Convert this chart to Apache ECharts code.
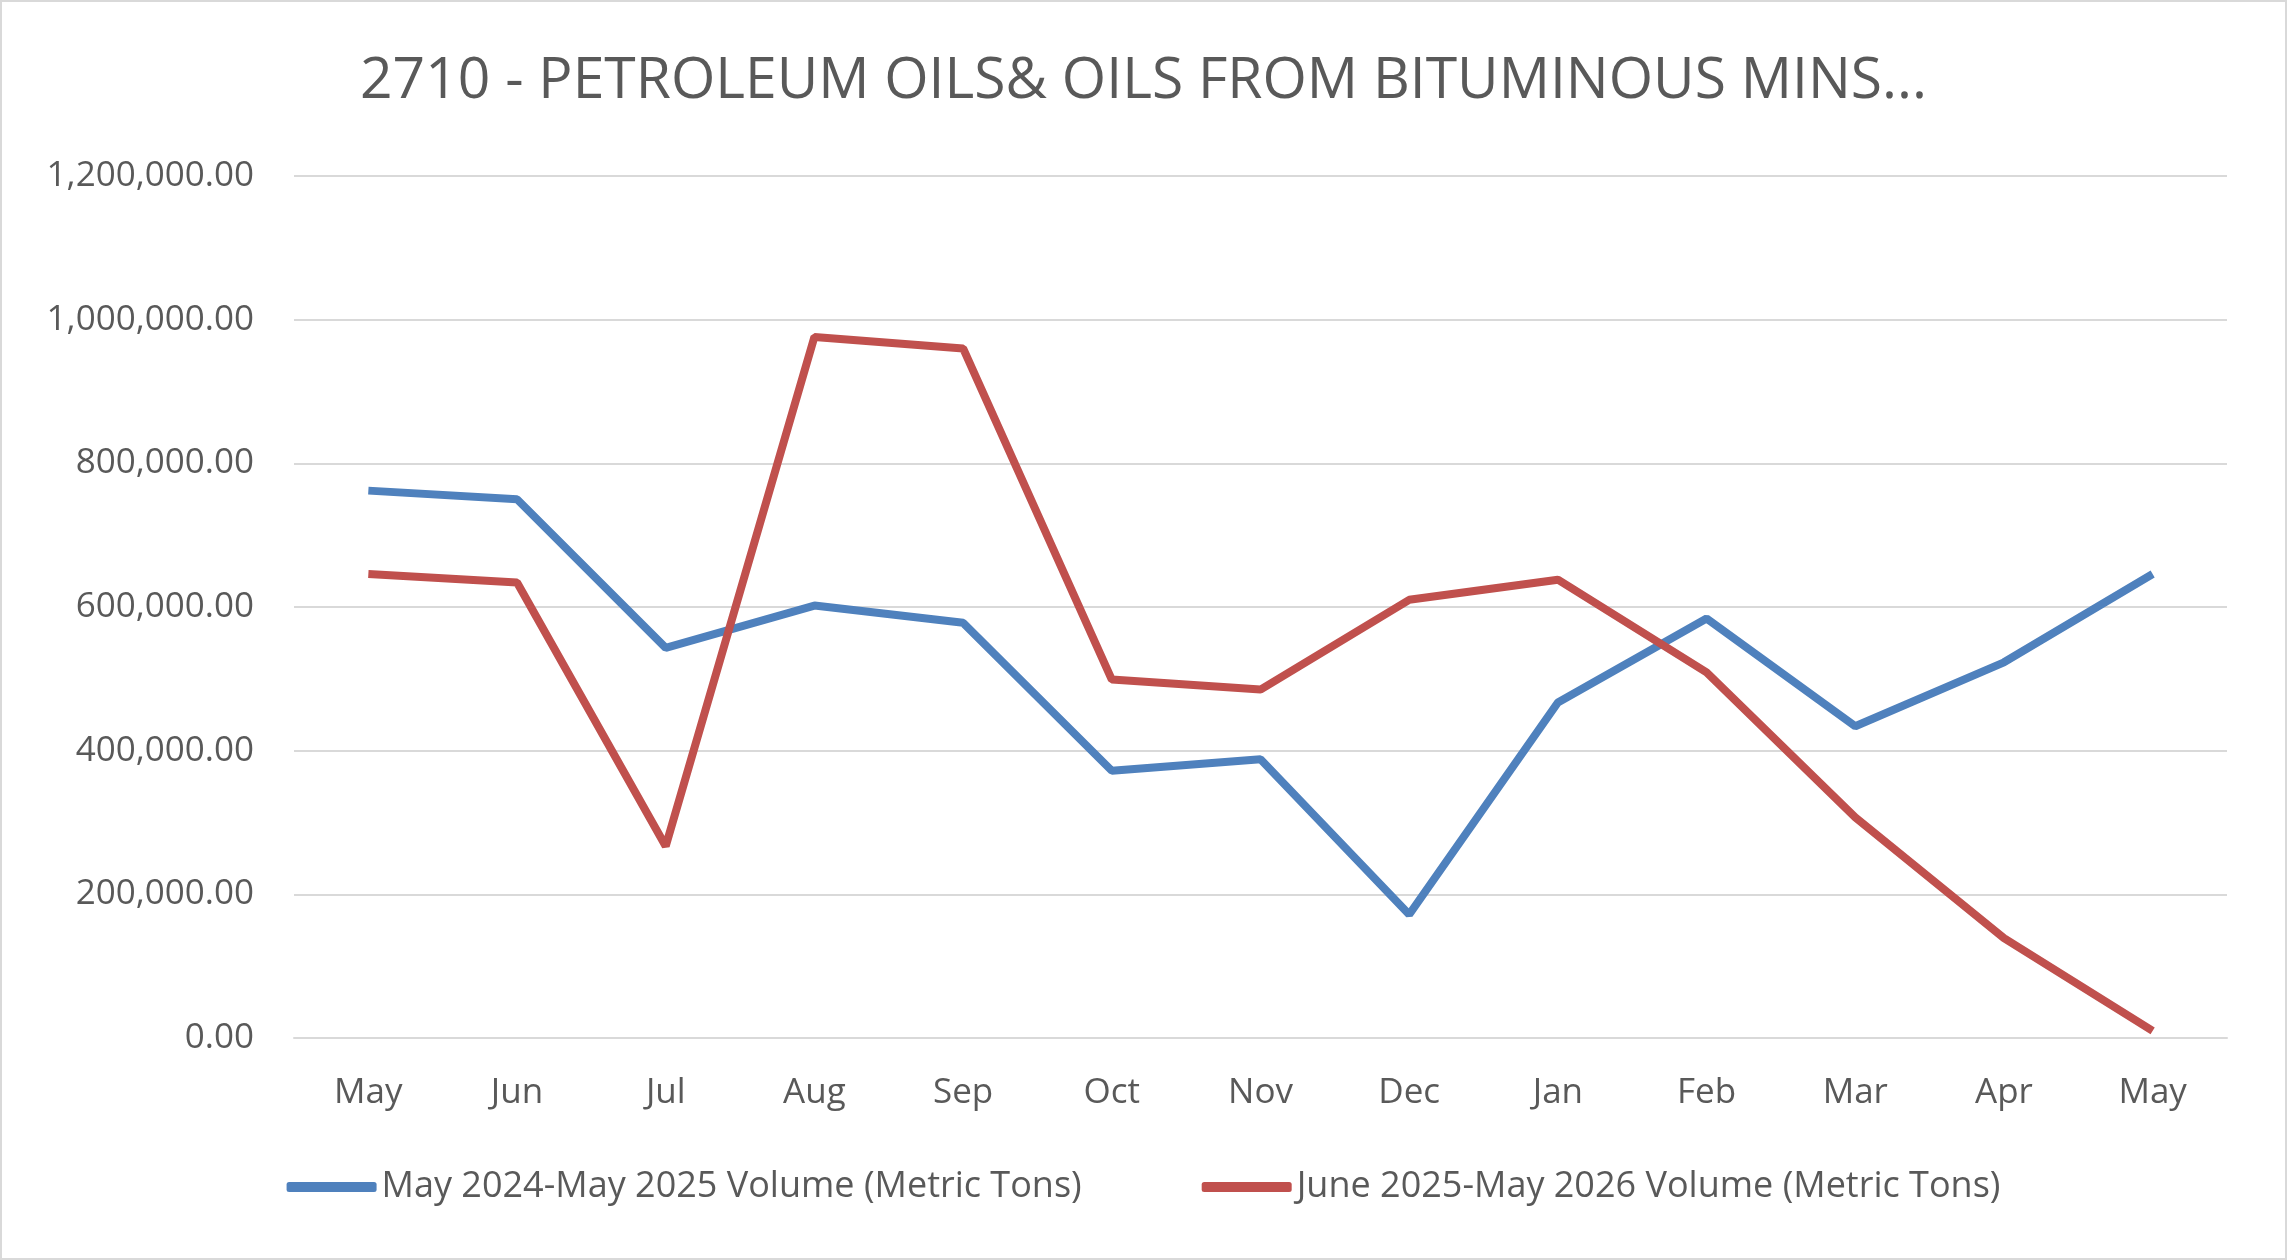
<!DOCTYPE html>
<html><head><meta charset="utf-8">
<script src="https://cdn.jsdelivr.net/npm/echarts@6/dist/echarts.min.js"></script>
<style>html,body{margin:0;padding:0;background:#fff}#c{width:2287px;height:1260px;box-sizing:border-box;border:2px solid #d9d9d9}</style>
</head><body><div id="c"></div>
<script>
const categories=["May","Jun","Jul","Aug","Sep","Oct","Nov","Dec","Jan","Feb","Mar","Apr","May"];
const series1Name="May 2024-May 2025 Volume (Metric Tons)";
const series1=[762000,750000,543000,602000,578000,372000,388000,172000,467000,584000,434000,523000,646000];
const series2Name="June 2025-May 2026 Volume (Metric Tons)";
const series2=[646000,634000,267000,976000,960000,499000,485000,610000,638000,509000,307000,139000,10000];
const chart=echarts.init(document.getElementById('c'));
const F='"Open Sans", "Liberation Sans", sans-serif';
chart.setOption({
  animation:false,
  title:{text:"2710 - PETROLEUM OILS& OILS FROM BITUMINOUS MINS...",left:'center',top:46,textStyle:{fontFamily:F,fontSize:57,fontWeight:'normal',color:'#595959'}},
  grid:{left:292,right:58,top:174,bottom:220},
  legend:{bottom:48,left:'center',itemGap:120,itemWidth:90,itemHeight:10,icon:'roundRect',textStyle:{fontFamily:F,fontSize:36,color:'#595959'},
    data:[series1Name,series2Name]},
  xAxis:{type:'category',data:categories,boundaryGap:true,axisTick:{show:false},
    axisLine:{lineStyle:{color:'#d9d9d9',width:2}},axisLabel:{fontFamily:F,fontSize:35,color:'#595959',margin:38}},
  yAxis:{type:'value',min:0,max:1200000,interval:200000,axisLine:{show:false},axisTick:{show:false},
    splitLine:{lineStyle:{color:'#d9d9d9',width:2}},
    axisLabel:{fontFamily:F,fontSize:35,color:'#595959',margin:40,formatter:v=>v.toLocaleString('en-US',{minimumFractionDigits:2,maximumFractionDigits:2})}},
  series:[
    {name:series1Name,type:'line',data:series1,symbol:'none',lineStyle:{width:8,color:'#4f81bd'},itemStyle:{color:'#4f81bd'}},
    {name:series2Name,type:'line',data:series2,symbol:'none',lineStyle:{width:8,color:'#c0504d'},itemStyle:{color:'#c0504d'}}
  ]
});
</script></body></html>
